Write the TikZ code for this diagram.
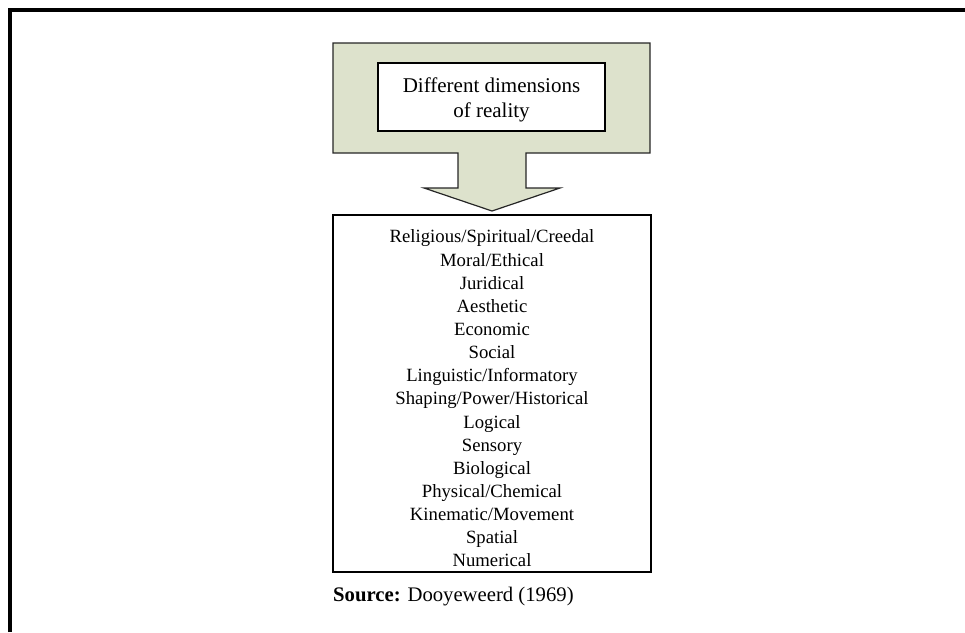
\documentclass[tikz,border=0pt]{standalone}
\usepackage{fontspec}
\setmainfont{Liberation Serif}
\definecolor{arrowfill}{RGB}{221,226,204}
\begin{document}
\begin{tikzpicture}[x=1pt,y=-1pt,
  innerbox/.style={draw=black,line width=2pt,fill=white,minimum width=227pt,minimum height=68pt,inner sep=0pt},
  dimstext/.style={inner sep=0pt,align=center,font=\fontsize{21}{25}\selectfont},
  listbox/.style={draw=black,line width=2.5pt,fill=white,minimum width=318pt,minimum height=357pt,inner sep=0pt},
  listtext/.style={inner sep=0pt,align=center,font=\fontsize{18.7}{23.15}\selectfont},
  srcnote/.style={anchor=west,inner sep=0pt,font=\fontsize{20.7}{24}\selectfont}]
\useasboundingbox (0,0) rectangle (965,632);
\draw[line width=4pt] (10,632) -- (10,10) -- (965,10);
\draw[fill=arrowfill,draw=black!85,line width=1.2pt,line join=miter]
  (333,43) -- (650,43) -- (650,153) -- (526,153) -- (526,188) -- (560,188)
  -- (492,211) -- (424,188) -- (458,188) -- (458,153) -- (333,153) -- cycle;
\node[innerbox] (dims) at (491.5,97) {};
\node[dimstext] (dimslabel) at (491.5,100) {Different dimensions\\of reality};
\node[listbox] (list) at (492,393.5) {};
\node[listtext] (items) at (492,398.5) {Religious/Spiritual/Creedal\\Moral/Ethical\\Juridical\\Aesthetic\\Economic\\Social\\Linguistic/Informatory\\Shaping/Power/Historical\\Logical\\Sensory\\Biological\\Physical/Chemical\\Kinematic/Movement\\Spatial\\Numerical};
\node[srcnote] (src) at (333,597) {\textbf{Source:} Dooyeweerd (1969)};
\end{tikzpicture}
\end{document}
